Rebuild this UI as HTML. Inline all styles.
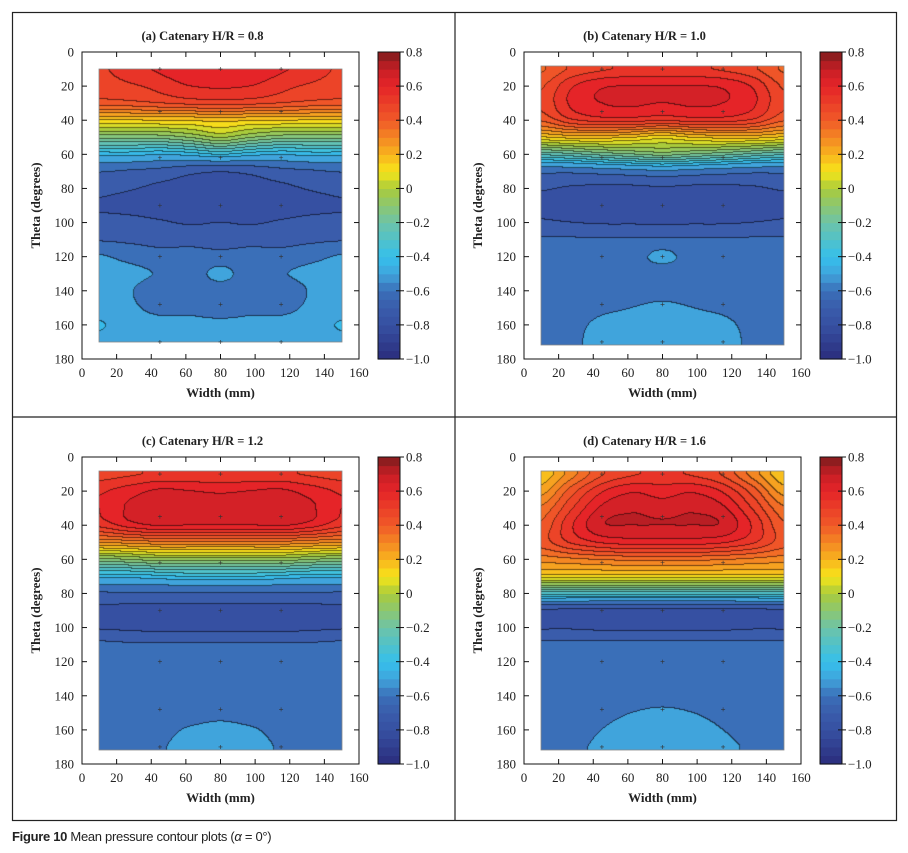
<!DOCTYPE html>
<html><head><meta charset="utf-8"><style>
body{margin:0;background:#fff;width:908px;height:853px;position:relative;overflow:hidden;font-family:"Liberation Serif",serif}
canvas{position:absolute}
#svg{position:absolute;left:0;top:0}
#cap{position:absolute;left:12px;top:829px;font-family:"Liberation Sans",sans-serif;font-size:13px;color:#222;letter-spacing:-0.3px}
</style></head><body>
<svg id="svg" width="908" height="853"></svg>
<div id="cap"><b>Figure 10</b> Mean pressure contour plots (<i>α</i> = 0°)</div>
<script>
const widthCols=[10,27.5,45,62.5,80,97.5,115,132.5,150];
const thetaRows=[10,20,30,40,50,60,70,80,90,100,110,120,130,140,150,160,170];
const xTicks=[0,20,40,60,80,100,120,140,160];
const yTicks=[0,20,40,60,80,100,120,140,160,180];
const cbTicks=[0.8,0.6,0.4,0.2,0,-0.2,-0.4,-0.6,-0.8,-1.0];
const cbLabels=["0.8","0.6","0.4","0.2","0","\u22120.2","\u22120.4","\u22120.6","\u22120.8","\u22121.0"];
const titles=["(a) Catenary H/R = 0.8","(b) Catenary H/R = 1.0","(c) Catenary H/R = 1.2","(d) Catenary H/R = 1.6"];
const dataA=[
[.50,.54,.58,.61,.62,.61,.58,.54,.50],
[.48,.50,.53,.57,.58,.57,.53,.50,.48],
[.42,.43,.45,.47,.48,.47,.45,.43,.42],
[.15,.15,.16,.16,.18,.16,.16,.15,.15],
[-.12,-.12,-.12,-.08,-.02,-.08,-.12,-.12,-.12],
[-.42,-.42,-.44,-.42,-.38,-.42,-.44,-.42,-.42],
[-.64,-.66,-.68,-.72,-.74,-.72,-.68,-.66,-.64],
[-.72,-.74,-.77,-.78,-.79,-.78,-.77,-.74,-.72],
[-.76,-.78,-.80,-.80,-.80,-.80,-.80,-.78,-.76],
[-.72,-.72,-.74,-.76,-.75,-.76,-.74,-.72,-.72],
[-.66,-.67,-.68,-.68,-.69,-.68,-.68,-.67,-.66],
[-.54,-.58,-.62,-.62,-.62,-.62,-.62,-.58,-.54],
[-.52,-.52,-.56,-.60,-.52,-.60,-.56,-.52,-.52],
[-.50,-.54,-.62,-.62,-.60,-.62,-.62,-.54,-.50],
[-.50,-.53,-.58,-.58,-.61,-.58,-.58,-.53,-.50],
[-.44,-.50,-.52,-.52,-.52,-.52,-.52,-.50,-.44],
[-.48,-.52,-.52,-.52,-.52,-.52,-.52,-.52,-.48]];
const dataB=[
[.38,.46,.50,.52,.52,.52,.50,.46,.38],
[.44,.56,.62,.63,.63,.63,.62,.56,.44],
[.46,.58,.63,.64,.63,.64,.63,.58,.46],
[.40,.50,.54,.54,.52,.54,.54,.50,.40],
[.15,.18,.18,.16,.12,.16,.18,.18,.15],
[-.25,-.22,-.18,-.15,-.12,-.15,-.18,-.22,-.25],
[-.62,-.62,-.60,-.58,-.56,-.58,-.60,-.62,-.62],
[-.74,-.76,-.77,-.77,-.76,-.77,-.77,-.76,-.74],
[-.76,-.78,-.80,-.79,-.78,-.79,-.80,-.78,-.76],
[-.74,-.75,-.76,-.76,-.76,-.76,-.76,-.75,-.74],
[-.64,-.64,-.64,-.64,-.64,-.64,-.64,-.64,-.64],
[-.62,-.62,-.62,-.60,-.52,-.60,-.62,-.62,-.62],
[-.62,-.62,-.62,-.61,-.61,-.61,-.62,-.62,-.62],
[-.62,-.62,-.61,-.60,-.59,-.60,-.61,-.62,-.62],
[-.62,-.60,-.57,-.55,-.53,-.55,-.57,-.60,-.62],
[-.62,-.58,-.53,-.52,-.51,-.52,-.53,-.58,-.62],
[-.62,-.57,-.52,-.50,-.49,-.50,-.52,-.57,-.62]];
const dataC=[
[.48,.50,.52,.52,.52,.52,.52,.50,.48],
[.56,.60,.64,.63,.62,.63,.64,.60,.56],
[.57,.64,.68,.67,.66,.67,.68,.64,.57],
[.53,.60,.64,.63,.63,.63,.64,.60,.53],
[.28,.30,.32,.32,.32,.32,.32,.30,.28],
[-.10,-.08,-.05,-.05,-.05,-.05,-.05,-.08,-.10],
[-.42,-.42,-.40,-.38,-.38,-.38,-.40,-.42,-.42],
[-.66,-.66,-.66,-.66,-.66,-.66,-.66,-.66,-.66],
[-.77,-.78,-.78,-.78,-.78,-.78,-.78,-.78,-.77],
[-.76,-.77,-.78,-.78,-.78,-.78,-.78,-.77,-.76],
[-.63,-.64,-.64,-.64,-.64,-.64,-.64,-.64,-.63],
[-.62,-.62,-.62,-.61,-.60,-.61,-.62,-.62,-.62],
[-.62,-.62,-.62,-.61,-.60,-.61,-.62,-.62,-.62],
[-.62,-.62,-.62,-.61,-.60,-.61,-.62,-.62,-.62],
[-.62,-.62,-.61,-.60,-.58,-.60,-.61,-.62,-.62],
[-.62,-.61,-.58,-.54,-.52,-.54,-.58,-.61,-.62],
[-.62,-.60,-.56,-.52,-.50,-.52,-.56,-.60,-.62]];
const dataD=[
[.16,.30,.44,.50,.52,.50,.44,.30,.16],
[.24,.42,.56,.62,.60,.62,.56,.42,.24],
[.34,.50,.64,.68,.66,.68,.64,.50,.34],
[.40,.56,.68,.69,.69,.69,.68,.56,.40],
[.42,.52,.58,.60,.60,.60,.58,.52,.42],
[.30,.32,.34,.35,.35,.35,.34,.32,.30],
[.12,.12,.12,.12,.12,.12,.12,.12,.12],
[-.30,-.30,-.30,-.30,-.30,-.30,-.30,-.30,-.30],
[-.76,-.77,-.78,-.78,-.78,-.78,-.78,-.77,-.76],
[-.76,-.76,-.77,-.77,-.77,-.77,-.77,-.76,-.76],
[-.63,-.63,-.63,-.63,-.63,-.63,-.63,-.63,-.63],
[-.62,-.62,-.62,-.62,-.62,-.62,-.62,-.62,-.62],
[-.62,-.62,-.62,-.62,-.62,-.62,-.62,-.62,-.62],
[-.62,-.62,-.62,-.61,-.60,-.61,-.62,-.62,-.62],
[-.62,-.61,-.58,-.55,-.53,-.55,-.58,-.61,-.62],
[-.63,-.60,-.55,-.52,-.51,-.52,-.55,-.59,-.63],
[-.64,-.58,-.53,-.51,-.50,-.51,-.53,-.57,-.63]];
const panelData=[dataA,dataB,dataC,dataD];
const cmapV=[-1,-0.8,-0.7,-0.6,-0.5,-0.4,-0.2,0,0.1,0.2,0.4,0.6,0.7,0.8];
const cmapC=["#2b2d7c","#3650a2","#3a5cab","#3a6fb8","#40a4dc","#35c0ec","#6dc3a8","#a9cb3c","#f6e61a","#f8b41e","#f05a28","#e52428","#c81f26","#7c1c1c"];
const VMIN=-0.95, SPLIT=-0.45;
const CB_STEP=0.05;

function hex(h){return [1,3,5].map(i=>parseInt(h.substr(i,2),16));}
function cmap(v){v=Math.max(-1,Math.min(0.8,v));for(let i=0;i<cmapV.length-1;i++){if(v<=cmapV[i+1]){const t=(v-cmapV[i])/(cmapV[i+1]-cmapV[i]);const a=hex(cmapC[i]),b=hex(cmapC[i+1]);return a.map((x,k)=>Math.round(x+(b[k]-x)*t));}}return hex(cmapC[cmapC.length-1]);}
function level(v){return v>SPLIT?1000+Math.floor((v-SPLIT)/0.06):Math.floor((v-VMIN)/0.1);}
function levelMid(l){return l>=1000?SPLIT+(l-1000+0.5)*0.06:VMIN+(l+0.5)*0.1;}
function cr(p0,p1,p2,p3,t){return 0.5*(2*p1+(-p0+p2)*t+(2*p0-5*p1+4*p2-p3)*t*t+(-p0+3*p1-3*p2+p3)*t*t*t);}
function interp1(arr,coords,c){let n=coords.length;if(c<=coords[0])return arr[0];if(c>=coords[n-1])return arr[n-1];let i=0;while(coords[i+1]<c)i++;const t=(c-coords[i])/(coords[i+1]-coords[i]);const g=k=>arr[Math.max(0,Math.min(n-1,k))];return cr(g(i-1),g(i),g(i+1),g(i+2),t);}
function field(d,w,th){const col=d.map(r=>interp1(r,widthCols,w));return interp1(col,thetaRows,th);}

const svg=document.getElementById('svg');
const NS="http://www.w3.org/2000/svg";
function el(tag,attrs,parent){const e=document.createElementNS(NS,tag);for(const k in attrs)e.setAttribute(k,attrs[k]);(parent||svg).appendChild(e);return e;}
function txt(s,attrs,parent){const e=el('text',attrs,parent);e.textContent=s;return e;}

const frame=el('rect',{x:12.5,y:12.5,width:884,height:808,fill:'none',stroke:'#222','stroke-width':1.2});

const d1=el('line',{x1:455,y1:12,x2:455,y2:821,stroke:'#222','stroke-width':1.2});

const d2=el('line',{x1:12,y1:417,x2:897,y2:417,stroke:'#222','stroke-width':1.2});


const origins=[[82,52],[524,52],[82,457],[524,457]];
const PW=277,PH=307;
const panelNames=['panel-a','panel-b','panel-c','panel-d'];
panelData.forEach((data,p)=>{
  const [L,T]=origins[p];
  const g=el('g',{});
  
  const xs=v=>L+v/160*PW, ys=v=>T+v/180*PH;
  const x0=Math.round(xs(10)),x1=Math.round(xs(150)),y0=Math.round(ys(p==0?10:8)),y1=Math.round(ys(p==0?170:172));
  const cw=x1-x0,ch=y1-y0;
  const cv=document.createElement('canvas');cv.width=cw;cv.height=ch;cv.style.left=x0+'px';cv.style.top=y0+'px';
  
  
  document.body.insertBefore(cv,svg);
  const ctx=cv.getContext('2d');const img=ctx.createImageData(cw,ch);
  const th0=(y0-T)/PH*180, th1=(y1-T)/PH*180;
  const lev=new Int16Array(cw*ch);
  for(let j=0;j<ch;j++){const th=th0+(j+0.5)/ch*(th1-th0);for(let i=0;i<cw;i++){const w=10+(i+0.5)/cw*140;const v=field(data,w,th);lev[j*cw+i]=level(v);}}
  for(let j=0;j<ch;j++)for(let i=0;i<cw;i++){const l=lev[j*cw+i];let c=cmap(levelMid(l));
    const line=(i<cw-1&&lev[j*cw+i+1]!=l)||(j<ch-1&&lev[(j+1)*cw+i]!=l);
    if(line)c=c.map(x=>Math.round(x*0.45));
    const o=(j*cw+i)*4;img.data[o]=c[0];img.data[o+1]=c[1];img.data[o+2]=c[2];img.data[o+3]=255;}
  ctx.putImageData(img,0,0);
  el('rect',{x:x0,y:y0,width:cw,height:ch,fill:'none',stroke:'#888','stroke-width':0.8},g);
  [45,80,115].forEach(w=>[10,35,62,90,120,148,170].forEach(t=>{const m=el('path',{d:`M${xs(w)-2},${ys(t)}h4M${xs(w)},${ys(t)-2}v4`,stroke:'#333','stroke-width':0.6},g);}));
  const box=el('rect',{x:L,y:T,width:PW,height:PH,fill:'none',stroke:'#111','stroke-width':1},g);
  
  xTicks.forEach((v,k)=>{const x=xs(v);
    if(k>0&&k<xTicks.length-1){el('line',{x1:x,y1:T+PH,x2:x,y2:T+PH-5,stroke:'#111'},g);el('line',{x1:x,y1:T,x2:x,y2:T+5,stroke:'#111'},g);}
    const t=txt(String(v),{x:x,y:T+PH+18,'font-size':13,'text-anchor':'middle',fill:'#222'},g);});
  yTicks.forEach((v,k)=>{const y=ys(v);
    if(k>0&&k<yTicks.length-1){el('line',{x1:L,y1:y,x2:L+5,y2:y,stroke:'#111'},g);el('line',{x1:L+PW,y1:y,x2:L+PW-5,y2:y,stroke:'#111'},g);}
    const t=txt(String(v),{x:L-8,y:y+4.5,'font-size':13,'text-anchor':'end',fill:'#222'},g);});
  const xt=txt('Width (mm)',{x:L+PW/2,y:T+PH+38,'font-size':13,'font-weight':'bold','text-anchor':'middle',fill:'#222'},g);
  
  const yt=txt('Theta (degrees)',{x:0,y:0,'font-size':13,'font-weight':'bold','text-anchor':'middle',fill:'#222',transform:`translate(${L-42},${T+PH/2}) rotate(-90)`},g);
  
  const tt=txt(titles[p],{x:L+PW/2-18,y:T-12,'font-size':12.5,'font-weight':'bold','text-anchor':'middle',fill:'#222'},g);
  
  const CX=L+PW+19,CW=22;
  const cb=el('g',{},g);
  const nL=Math.round(1.8/CB_STEP);
  for(let k=0;k<nL;k++){const v0=-1+k*CB_STEP;const c=cmap(v0+CB_STEP/2);const yA=T+(0.8-(v0+CB_STEP))/1.8*PH,yB=T+(0.8-v0)/1.8*PH;
    const r=el('rect',{x:CX,y:yA,width:CW,height:yB-yA+0.6,fill:`rgb(${c})`},cb);}
  el('rect',{x:CX,y:T,width:CW,height:PH,fill:'none',stroke:'#111'},cb);
  cbTicks.forEach((v,k)=>{const y=T+(0.8-v)/1.8*PH;el('line',{x1:CX+CW-4,y1:y,x2:CX+CW+4,y2:y,stroke:'#111'},cb);
    const t=txt(cbLabels[k],{x:CX+CW+6,y:y+4.5,'font-size':13,fill:'#222'},cb);});
});
</script>
</body></html>
